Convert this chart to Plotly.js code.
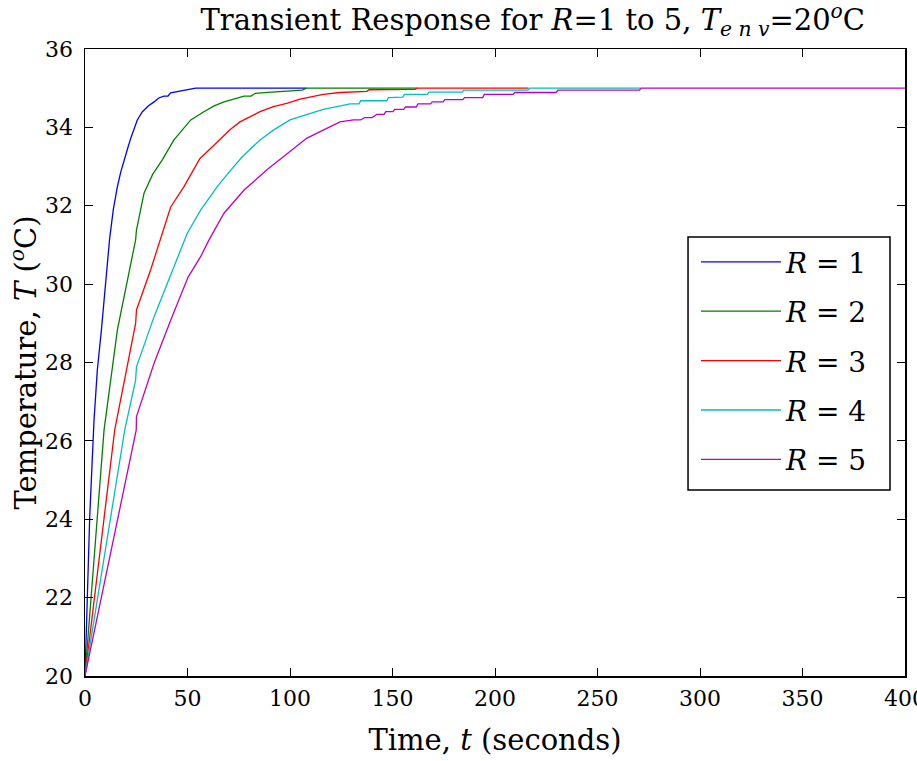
<!DOCTYPE html>
<html>
<head>
<meta charset="utf-8">
<script src="https://cdn.plot.ly/plotly-3.0.1.min.js"></script>
<style>html,body{margin:0;padding:0;background:#fff;}#chart{width:917px;height:761px;}</style>
</head>
<body>
<div id="chart"></div>
<script>
// ---- data ----
const seriesNames = ["<i>R</i> = 1", "<i>R</i> = 2", "<i>R</i> = 3", "<i>R</i> = 4", "<i>R</i> = 5"];
const seriesColors = ["#0000ff", "#008000", "#ff0000", "#00bfbf", "#bf00bf"];

const t1 = [0, 1.1, 2.3, 4.4, 6.0, 8.0, 10.0, 12.0, 13.8, 15.8, 17.4, 19.0, 21.0, 22.5, 24.7, 25.5, 28.0, 31.0, 33.7, 36.0, 38.5, 40.5, 41.8, 46.7, 48.5, 54.0, 108.0];
const T1 = [20, 22.0, 24.06, 26.53, 27.8, 28.83, 30.1, 31.15, 31.9, 32.49, 32.85, 33.17, 33.5, 33.75, 34.10, 34.19, 34.40, 34.55, 34.65, 34.75, 34.8, 34.8, 34.88, 34.93, 34.95, 35.0, 35.0];

const t2 = [0, 9.3, 15.8, 22.3, 24.7, 25.1, 28.8, 33.0, 37.7, 43.4, 51.6, 58.0, 63.0, 67.8, 72.0, 77.6, 81.0, 83.0, 91.0, 106.0, 108.0, 162.0];
const T2 = [20, 26.28, 28.83, 30.53, 31.13, 31.38, 32.32, 32.8, 33.17, 33.68, 34.19, 34.40, 34.55, 34.65, 34.72, 34.8, 34.8, 34.87, 34.9, 34.95, 35.0, 35.0];

const t3 = [0, 14.5, 24.7, 25.1, 32.0, 38.2, 41.8, 48.3, 56.0, 62.0, 67.0, 71.0, 75.6, 80.5, 85.4, 91.9, 98.4, 104.9, 110.6, 116.2, 124.4, 128.0, 137.5, 138.5, 161.0, 162.0, 216.3];
const T3 = [20, 26.28, 29.0, 29.34, 30.36, 31.38, 31.97, 32.49, 33.2, 33.5, 33.75, 33.95, 34.14, 34.27, 34.40, 34.53, 34.61, 34.72, 34.78, 34.84, 34.89, 34.9, 34.92, 34.96, 34.97, 35.0, 35.0];

const t4 = [0, 19.4, 24.7, 25.1, 33.7, 40.1, 46.7, 49.9, 56.4, 64.5, 71.1, 76.7, 85.4, 91.9, 100.0, 104.9, 111.4, 116.2, 122.8, 129.3, 133.7, 134.5, 147.2, 148.0, 155.0, 155.8, 167.0, 167.8, 184.0, 184.8, 216.0, 217.0, 271.0];
const T4 = [20, 26.28, 27.55, 27.89, 29.17, 30.02, 30.87, 31.30, 31.89, 32.49, 32.91, 33.25, 33.68, 33.93, 34.19, 34.27, 34.38, 34.46, 34.53, 34.60, 34.60, 34.68, 34.68, 34.76, 34.77, 34.84, 34.84, 34.90, 34.90, 34.95, 34.95, 35.0, 35.0];

const t5 = [0, 25.0, 25.1, 33.7, 41.8, 49.9, 50.3, 56.4, 60.5, 67.8, 77.6, 88.6, 97.6, 108.1, 116.2, 124.4, 131.0, 134.5, 136.3, 140.0, 142.4, 145.9, 146.7, 150.2, 151.1, 155.5, 156.3, 161.6, 162.4, 168.6, 169.4, 174.7, 175.5, 184.3, 185.1, 194.0, 194.8, 208.8, 209.7, 229.8, 230.7, 270.5, 271.3, 400.0];
const T5 = [20, 26.28, 26.62, 27.98, 29.08, 30.10, 30.18, 30.70, 31.13, 31.81, 32.40, 32.91, 33.29, 33.72, 33.93, 34.14, 34.19, 34.19, 34.25, 34.25, 34.33, 34.33, 34.40, 34.40, 34.46, 34.46, 34.52, 34.52, 34.60, 34.60, 34.65, 34.65, 34.71, 34.71, 34.76, 34.76, 34.84, 34.84, 34.89, 34.89, 34.95, 34.95, 35.0, 35.0];

const xTickVals = [0, 50, 100, 150, 200, 250, 300, 350, 400];
const yTickVals = [20, 22, 24, 26, 28, 30, 32, 34, 36];

const titleText = "Transient Response for <i>R</i>=1 to 5, <i>T</i><sub><i>e n v</i></sub>=20<sup><i>o</i></sup>C";
const xTitleText = "Time, <i>t</i> (seconds)";
const yTitleText = "Temperature, <i>T</i> (<sup><i>o</i></sup>C)";

// ---- build traces ----
const tArrays = [t1, t2, t3, t4, t5];
const TArrays = [T1, T2, T3, T4, T5];
const FONT = "DejaVu Serif, Liberation Serif, serif";

const traces = tArrays.map((t, i) => ({
  x: t, y: TArrays[i], type: "scatter", mode: "lines",
  name: seriesNames[i], legendgroup: "g" + i,
  line: {color: seriesColors[i], width: 1.3}
}));

const axisCommon = {
  showgrid: false, zeroline: false, showline: true, linecolor: "#000", linewidth: 1.5,
  mirror: "ticks", ticks: "inside", ticklen: 8, tickwidth: 1, tickcolor: "#000",
  ticklabeloverflow: "allow",
  tickfont: {family: FONT, size: 22, color: "#000"}
};

const layout = {
  width: 917, height: 761,
  paper_bgcolor: "#fff", plot_bgcolor: "#fff",
  margin: {l: 85, r: 12, t: 49, b: 85, pad: 0},
  font: {family: FONT, color: "#000"},
  title: {text: titleText, font: {family: FONT, size: 29, color: "#000"},
          x: 0.546, xref: "paper", xanchor: "center", y: 0.974, yanchor: "middle"},
  xaxis: Object.assign({}, axisCommon, {range: [0, 400], tickvals: xTickVals, ticklabelstandoff: 2,
          title: {text: xTitleText, font: {family: FONT, size: 29, color: "#000"}, standoff: 20}}),
  yaxis: Object.assign({}, axisCommon, {range: [20, 36], tickvals: yTickVals, ticklabelstandoff: 6,
          title: {text: yTitleText, font: {family: FONT, size: 29, color: "#000"}, standoff: 0}}),
  showlegend: true,
  legend: {x: 0.7451, xanchor: "left", y: 0.700, yanchor: "top",
           bgcolor: "rgba(0,0,0,0)", borderwidth: 0,
           font: {family: FONT, size: 28, color: "#000"},
           traceorder: "grouped", tracegroupgap: 10, itemwidth: 80},
  // legend frame
  shapes: [{type: "rect", xref: "paper", yref: "paper", layer: "above",
            x0: 0.7354, x1: 0.9817, y0: 0.2967, y1: 0.7002,
            line: {color: "#000", width: 1.5}, fillcolor: "#fff"}]
};

Plotly.newPlot("chart", traces, layout, {displayModeBar: false, staticPlot: true});
</script>
</body>
</html>
